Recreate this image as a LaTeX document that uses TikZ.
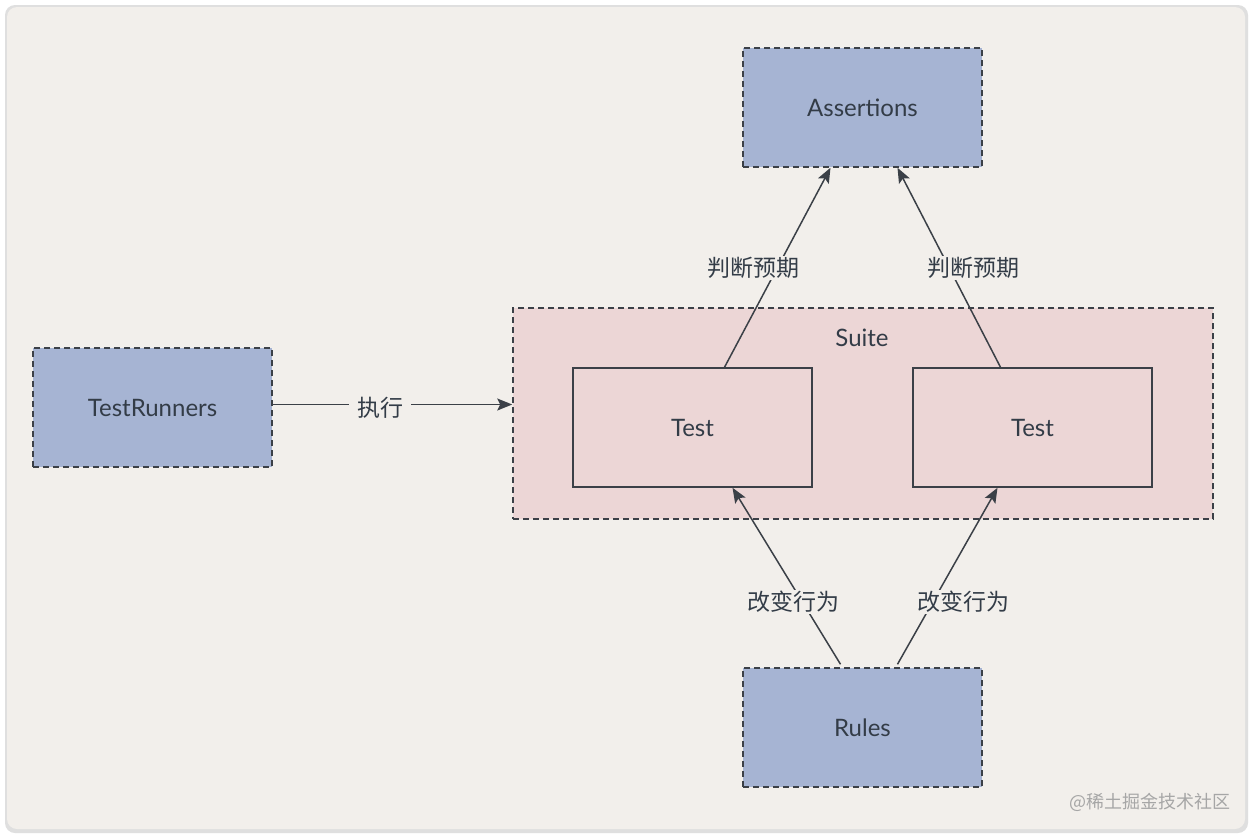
\documentclass[tikz,border=0pt]{standalone}
\usepackage{fontspec}
\setmainfont{Lato}
\newfontfamily\cjk{Noto Sans CJK SC}
\usepackage{xcolor}
\usepackage{tikz}
\usetikzlibrary{arrows.meta,positioning}
\definecolor{cardbg}{HTML}{F2EFEB}
\definecolor{bluec}{HTML}{A6B4D3}
\definecolor{pinkc}{HTML}{ECD6D6}
\definecolor{linec}{HTML}{3B4047}
\definecolor{textc}{HTML}{333C47}
\tikzset{
  ar/.style={-{Stealth[length=15pt,width=12pt,inset=3pt]},line width=1.5pt,linec},
  dbox/.style={draw=linec,line width=1.5pt,dash pattern=on 6pt off 4pt,fill=bluec,minimum width=239pt,minimum height=119pt,inner sep=0pt,text=textc,font=\fontsize{24}{28}\selectfont},
  tbox/.style={draw=linec,line width=1.5pt,fill=pinkc,minimum width=239pt,minimum height=119pt,inner sep=0pt,text=textc,font=\fontsize{24}{28}\selectfont},
  lbl/.style={fill=cardbg,inner sep=1pt,text=textc,font=\cjk\fontsize{23}{26}\selectfont}
}
\begin{document}
\begin{tikzpicture}[x=1pt,y=-1pt]
\useasboundingbox (0,0) rectangle (1254,836);
\fill[white] (0,0) rectangle (1254,836);
% card
\fill[gray!25,rounded corners=10pt] (5,5) rectangle (1248,833);
\fill[cardbg,rounded corners=10pt] (7,7) rectangle (1245,829);
% suite frame
\node[draw=linec,line width=1.5pt,dash pattern=on 6pt off 4pt,fill=pinkc,minimum width=700pt,minimum height=211pt,inner sep=0pt] (suite) at (863,413.5) {};
\node[text=textc,font=\fontsize{24}{28}\selectfont] (suitelbl) at (862,338) {Suite};
% boxes
\node[dbox] (assert) at (862.5,107.5) {Assertions};
\node[dbox] (runner) at (152.5,407.5) {TestRunners};
\node[dbox] (rules) at (862.5,727.5) {Rules};
\node[tbox] (testa) at (692.5,427.5) {Test};
\node[tbox] (testb) at (1032.5,427.5) {Test};
% connectors
\draw[ar] ([yshift=3pt]runner.east) -- ([yshift=3pt]runner.east -| suite.west);
\draw[ar] ([xshift=32pt]testa.north) -- ([xshift=-32pt]assert.south);
\draw[ar] ([xshift=-32pt]testb.north) -- ([xshift=35pt]assert.south);
\draw[ar] ([xshift=-22pt,yshift=3pt]rules.north) -- ([xshift=40pt]testa.south);
\draw[ar] ([xshift=35pt,yshift=3pt]rules.north) -- ([xshift=-35pt]testb.south);
% labels
\node[lbl,inner xsep=8pt] (run) at (380,408) {执行};
\node[lbl] (chka) at (753,268) {判断预期};
\node[lbl] (chkb) at (973,268) {判断预期};
\node[lbl] (chga) at (793,602) {改变行为};
\node[lbl] (chgb) at (963,602) {改变行为};
\node[text=gray!70,font=\cjk\fontsize{18}{20}\selectfont] (mark) at (1150,802) {@稀土掘金技术社区};
\end{tikzpicture}
\end{document}
